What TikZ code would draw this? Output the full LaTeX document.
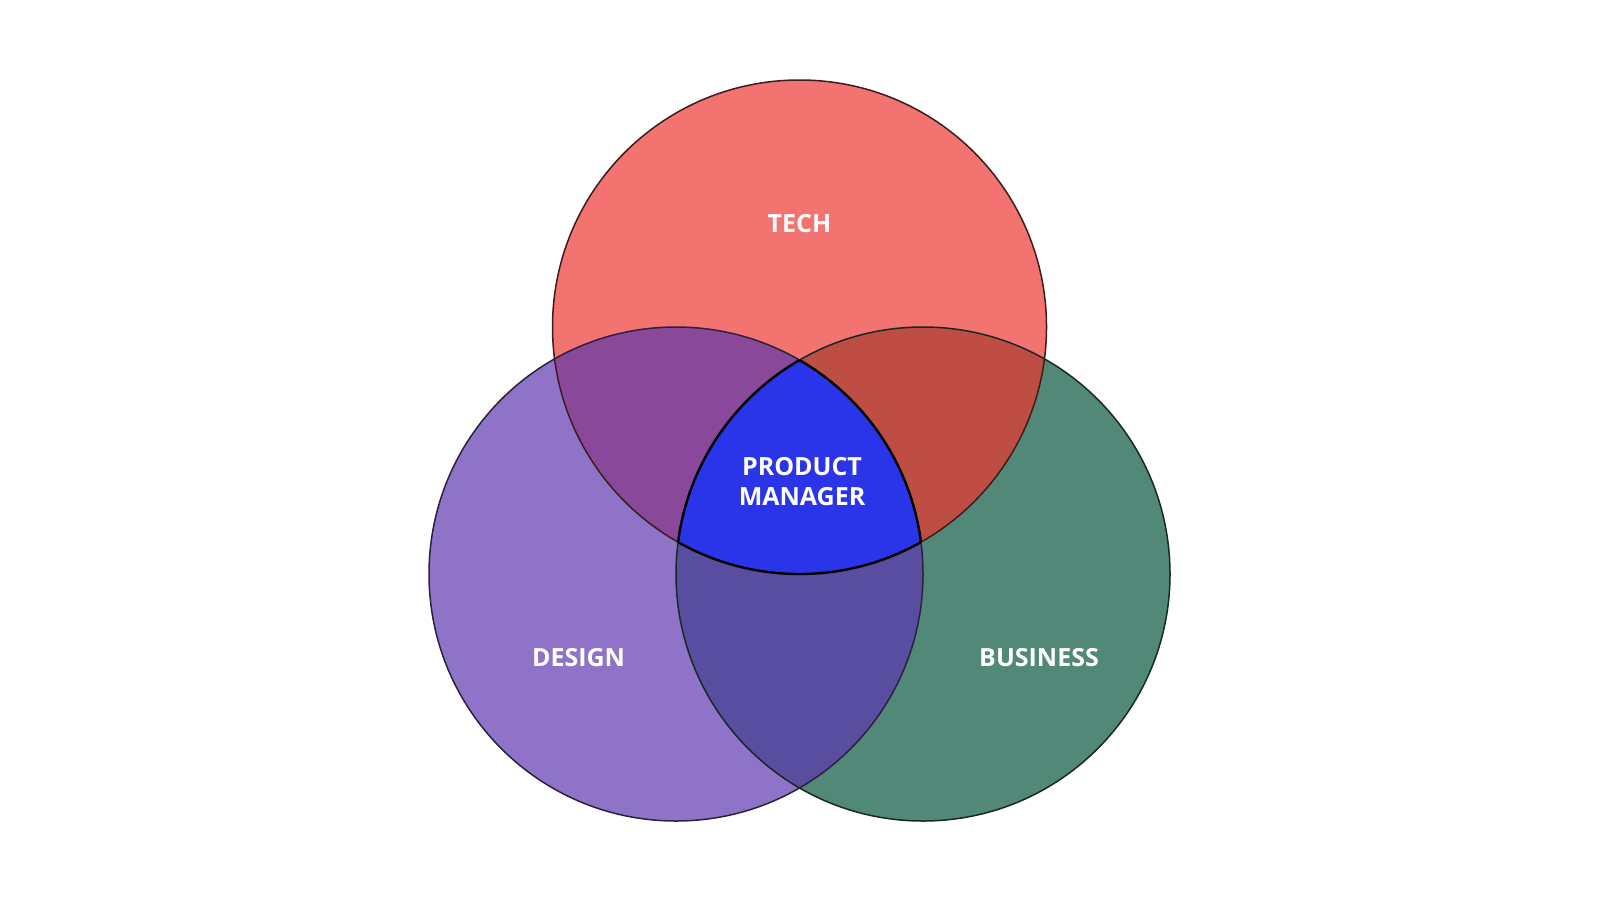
\documentclass[tikz,border=0pt]{standalone}
\usepackage{fontspec}
\setsansfont{Open Sans}
\usetikzlibrary{positioning}
\definecolor{techred}{HTML}{F2736F}
\definecolor{designviolet}{HTML}{8E73C8}
\definecolor{businessgreen}{HTML}{518878}
\definecolor{techdesign}{HTML}{8A489A}
\definecolor{techbusiness}{HTML}{BE4E44}
\definecolor{designbusiness}{HTML}{594DA0}
\definecolor{pmblue}{HTML}{2A35EA}

\begin{document}
\begin{tikzpicture}[x=1pt, y=-1pt,
  lbl/.style={text=white, font=\sffamily\bfseries\fontsize{25}{30}\selectfont, align=center, inner sep=0pt},
  rim/.style={line width=1.5pt},
  core/.style={draw=black, line width=2.4pt}]
  \useasboundingbox (0,0) rectangle (1600,900);

  \coordinate (ct) at (799.5,327);
  \coordinate (cd) at (676,574);
  \coordinate (cb) at (923,574);

  \fill[techred] (ct) circle[radius=247pt];
  \fill[designviolet] (cd) circle[radius=247pt];
  \fill[businessgreen] (cb) circle[radius=247pt];

  % pairwise overlaps
  \begin{scope}
    \clip (ct) circle[radius=247pt];
    \fill[techdesign] (cd) circle[radius=247pt];
    \fill[techbusiness] (cb) circle[radius=247pt];
  \end{scope}
  \begin{scope}
    \clip (cd) circle[radius=247pt];
    \fill[designbusiness] (cb) circle[radius=247pt];
  \end{scope}

  % centre
  \begin{scope}
    \clip (ct) circle[radius=247pt];
    \clip (cd) circle[radius=247pt];
    \fill[pmblue] (cb) circle[radius=247pt];
  \end{scope}

  \draw[rim, draw=techred!25!black] (ct) circle[radius=247pt];
  \draw[rim, draw=designviolet!30!black] (cd) circle[radius=247pt];
  \draw[rim, draw=businessgreen!30!black] (cb) circle[radius=247pt];

  \begin{scope}
    \clip (ct) circle[radius=247pt];
    \clip (cd) circle[radius=247pt];
    \draw[core] (cb) circle[radius=247pt];
  \end{scope}
  \begin{scope}
    \clip (ct) circle[radius=247pt];
    \clip (cb) circle[radius=247pt];
    \draw[core] (cd) circle[radius=247pt];
  \end{scope}
  \begin{scope}
    \clip (cd) circle[radius=247pt];
    \clip (cb) circle[radius=247pt];
    \draw[core] (ct) circle[radius=247pt];
  \end{scope}

  \node[lbl] (tech) at (799.5,223.5) {TECH};
  \node[lbl] (design) at (578.5,658) {DESIGN};
  \node[lbl] (business) at (1039,658) {BUSINESS};
  \node[lbl] (pm) at (802,482) {PRODUCT\\MANAGER};
\end{tikzpicture}
\end{document}
